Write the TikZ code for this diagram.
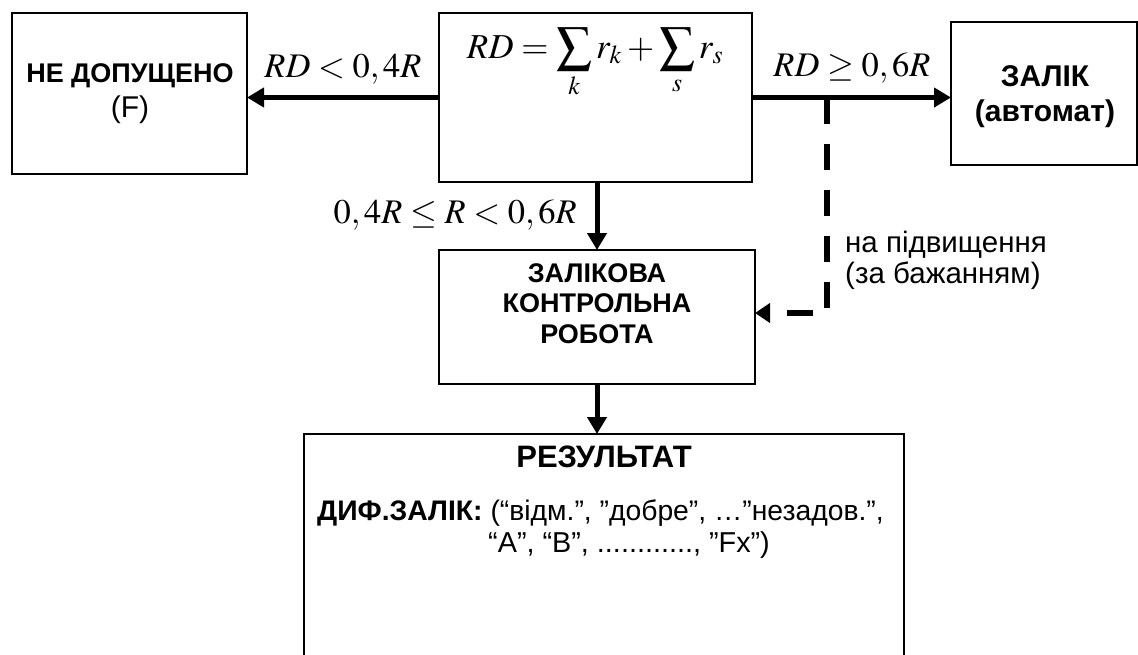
\documentclass[tikz,border=0pt]{standalone}
\usepackage{mathptmx}
\usepackage[no-math]{fontspec}
\setmainfont{Liberation Sans}
\usetikzlibrary{arrows.meta}
\begin{document}
\begin{tikzpicture}[x=1pt,y=-1pt]
\tikzset{
 box/.style={draw,line width=1.3pt,inner sep=0pt,outer sep=0pt},
 bt/.style={font=\fontsize{27}{31}\selectfont\bfseries,inner sep=0pt,anchor=base},
 btl/.style={font=\fontsize{30}{34}\selectfont\bfseries,inner sep=0pt,anchor=base},
 rt/.style={font=\fontsize{30}{34}\selectfont,inner sep=0pt,anchor=base},
 rtl/.style={font=\fontsize{29.5}{34}\selectfont,inner sep=0pt,anchor=base west},
 mt/.style={font=\fontsize{34.5}{40}\selectfont,inner sep=0pt,anchor=base},
 arr/.style={line width=5pt,-{Triangle[length=17pt,width=19pt]}},
 darr/.style={line width=6pt,dash pattern=on 26pt off 20pt,-{Triangle[length=15pt,width=19pt]}},
}
\useasboundingbox (0,0) rectangle (1138,654);
% boxes
\node[box,minimum width=235pt,minimum height=161pt] (left) at (129.5,93.5) {};
\node[box,minimum width=313pt,minimum height=169pt] (top) at (595.5,97.5) {};
\node[box,minimum width=186pt,minimum height=143pt] (right) at (1044,93.5) {};
\node[box,minimum width=316pt,minimum height=134pt] (mid) at (597,317) {};
\node[inner sep=0pt,outer sep=0pt,minimum width=600pt,minimum height=252pt] (res) at (604,560) {};
\draw[line width=1.3pt] (res.south west) -- (res.north west) -- (res.north east) -- (res.south east);
% texts
\node[bt] (l1) at (130,82) {НЕ ДОПУЩЕНО};
\node[rt] (l2) at (130,117) {(F)};
\node[btl] (r1) at (1045,86) {ЗАЛІК};
\node[btl] (r2) at (1045,121) {(автомат)};
\node[bt] (m1) at (597,282) {ЗАЛІКОВА};
\node[bt] (m2) at (597,312) {КОНТРОЛЬНА};
\node[bt] (m3) at (597,343) {РОБОТА};
\node[bt,font=\fontsize{31}{35}\selectfont\bfseries] (res1) at (604,467) {РЕЗУЛЬТАТ};
\node[rtl,font=\fontsize{28.3}{33}\selectfont] (res2) at (317,520) {\textbf{ДИФ.ЗАЛІК:} (“відм.”, ”добре”, …”незадов.”,};
\node[rtl,font=\fontsize{28.8}{33}\selectfont] (res3) at (488,552) {“A”, “B”, ............, ”Fx”)};
\node[rtl] (n1) at (845,252) {на підвищення};
\node[rtl] (n2) at (845,283) {(за бажанням)};
% math
\node[mt,font=\fontsize{35}{40}\selectfont] (form) at (595,58) {$RD=\displaystyle\sum_k r_k+\sum_s r_s$};
\node[mt] (c1) at (343,77) {$RD<0,4R$};
\node[mt] (c2) at (852,76) {$RD\geq 0,6R$};
\node[mt,anchor=base east] (c3) at (577,223) {$0,4R\leq R<0,6R$};
% connectors
\draw[arr] (top.west) -- (top.west -| left.east);
\draw[arr] (top.east) -- (top.east -| right.west);
\draw[arr] (mid.north |- top.south) -- (mid.north);
\draw[arr] (mid.south) -- (mid.south |- res.north);
\coordinate (d1) at (827,97.5);
\coordinate (d2) at (827,313);
\draw[darr] (d1) -- (d2) -- (d2 -| mid.east);
\end{tikzpicture}
\end{document}
